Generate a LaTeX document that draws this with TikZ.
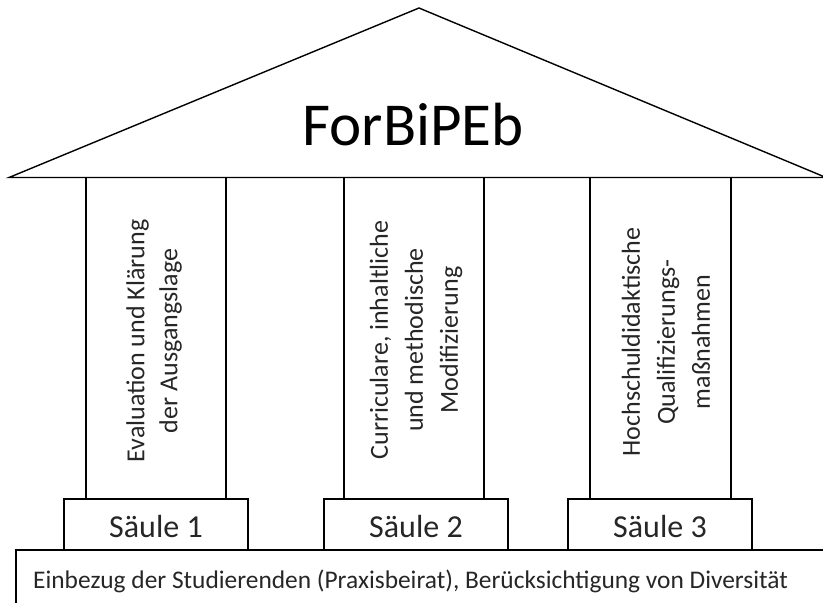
\documentclass[tikz,border=0pt]{standalone}
\usepackage{fontspec}
\setmainfont{Carlito}
\begin{document}
\begin{tikzpicture}[x=1pt,y=-1pt,
  line/.style={draw=black,line width=1.4pt,line join=miter},
  box/.style={line,fill=white,inner sep=0pt,outer sep=0pt},
  ptext/.style={rotate=90,align=center,text=black!85,font=\fontsize{26}{35}\selectfont},
  stext/.style={text=black!85,font=\fontsize{32}{38}\selectfont},
]
\useasboundingbox (0,0) rectangle (823,603);
% platform
\coordinate (pl) at (16,603);
\coordinate (pt) at (16,550);
\coordinate (pr) at (830,550);
\draw[line] (pl) -- (pt) -- (pr);
\node[anchor=base west,text=black!85,font=\fontsize{25.4}{30}\selectfont,inner sep=0pt] (platform) at (33,588)
  {Einbezug der Studierenden (Praxisbeirat), Berücksichtigung von Diversität};
% bases
\node[box,minimum width=184pt,minimum height=51pt] (b1) at (156,524.5) {};
\node[box,minimum width=184pt,minimum height=51pt] (b2) at (416,524.5) {};
\node[box,minimum width=184pt,minimum height=51pt] (b3) at (660,524.5) {};
\node[stext,anchor=base] (s1) at (156,537) {Säule 1};
\node[stext,anchor=base] (s2) at (416,537) {Säule 2};
\node[stext,anchor=base] (s3) at (660,537) {Säule 3};
% pillars
\node[box,minimum width=140pt,minimum height=322pt] (p1) at (156,338) {};
\node[box,minimum width=140pt,minimum height=322pt] (p2) at (414,338) {};
\node[box,minimum width=141pt,minimum height=322pt] (p3) at (660.5,338) {};
\node[ptext,font=\fontsize{26}{33}\selectfont] (t1) at (154,341) {Evaluation und Klärung\\der Ausgangslage};
\node[ptext] (t2) at (416,340) {Curriculare, inhaltliche\\und methodische\\Modifizierung};
\node[ptext] (t3) at (666,342) {Hochschuldidaktische\\Qualifizierungs-\\maßnahmen};
% roof
\coordinate (rl) at (9,177.5);
\coordinate (ra) at (419,8);
\coordinate (rr) at (826,177.5);
\draw[line,fill=white] (rl) -- (ra) -- (rr) -- cycle;
\node[anchor=base,font=\fontsize{61}{70}\selectfont,inner sep=0pt] (title) at (413,145) {ForBiPEb};
\end{tikzpicture}
\end{document}
